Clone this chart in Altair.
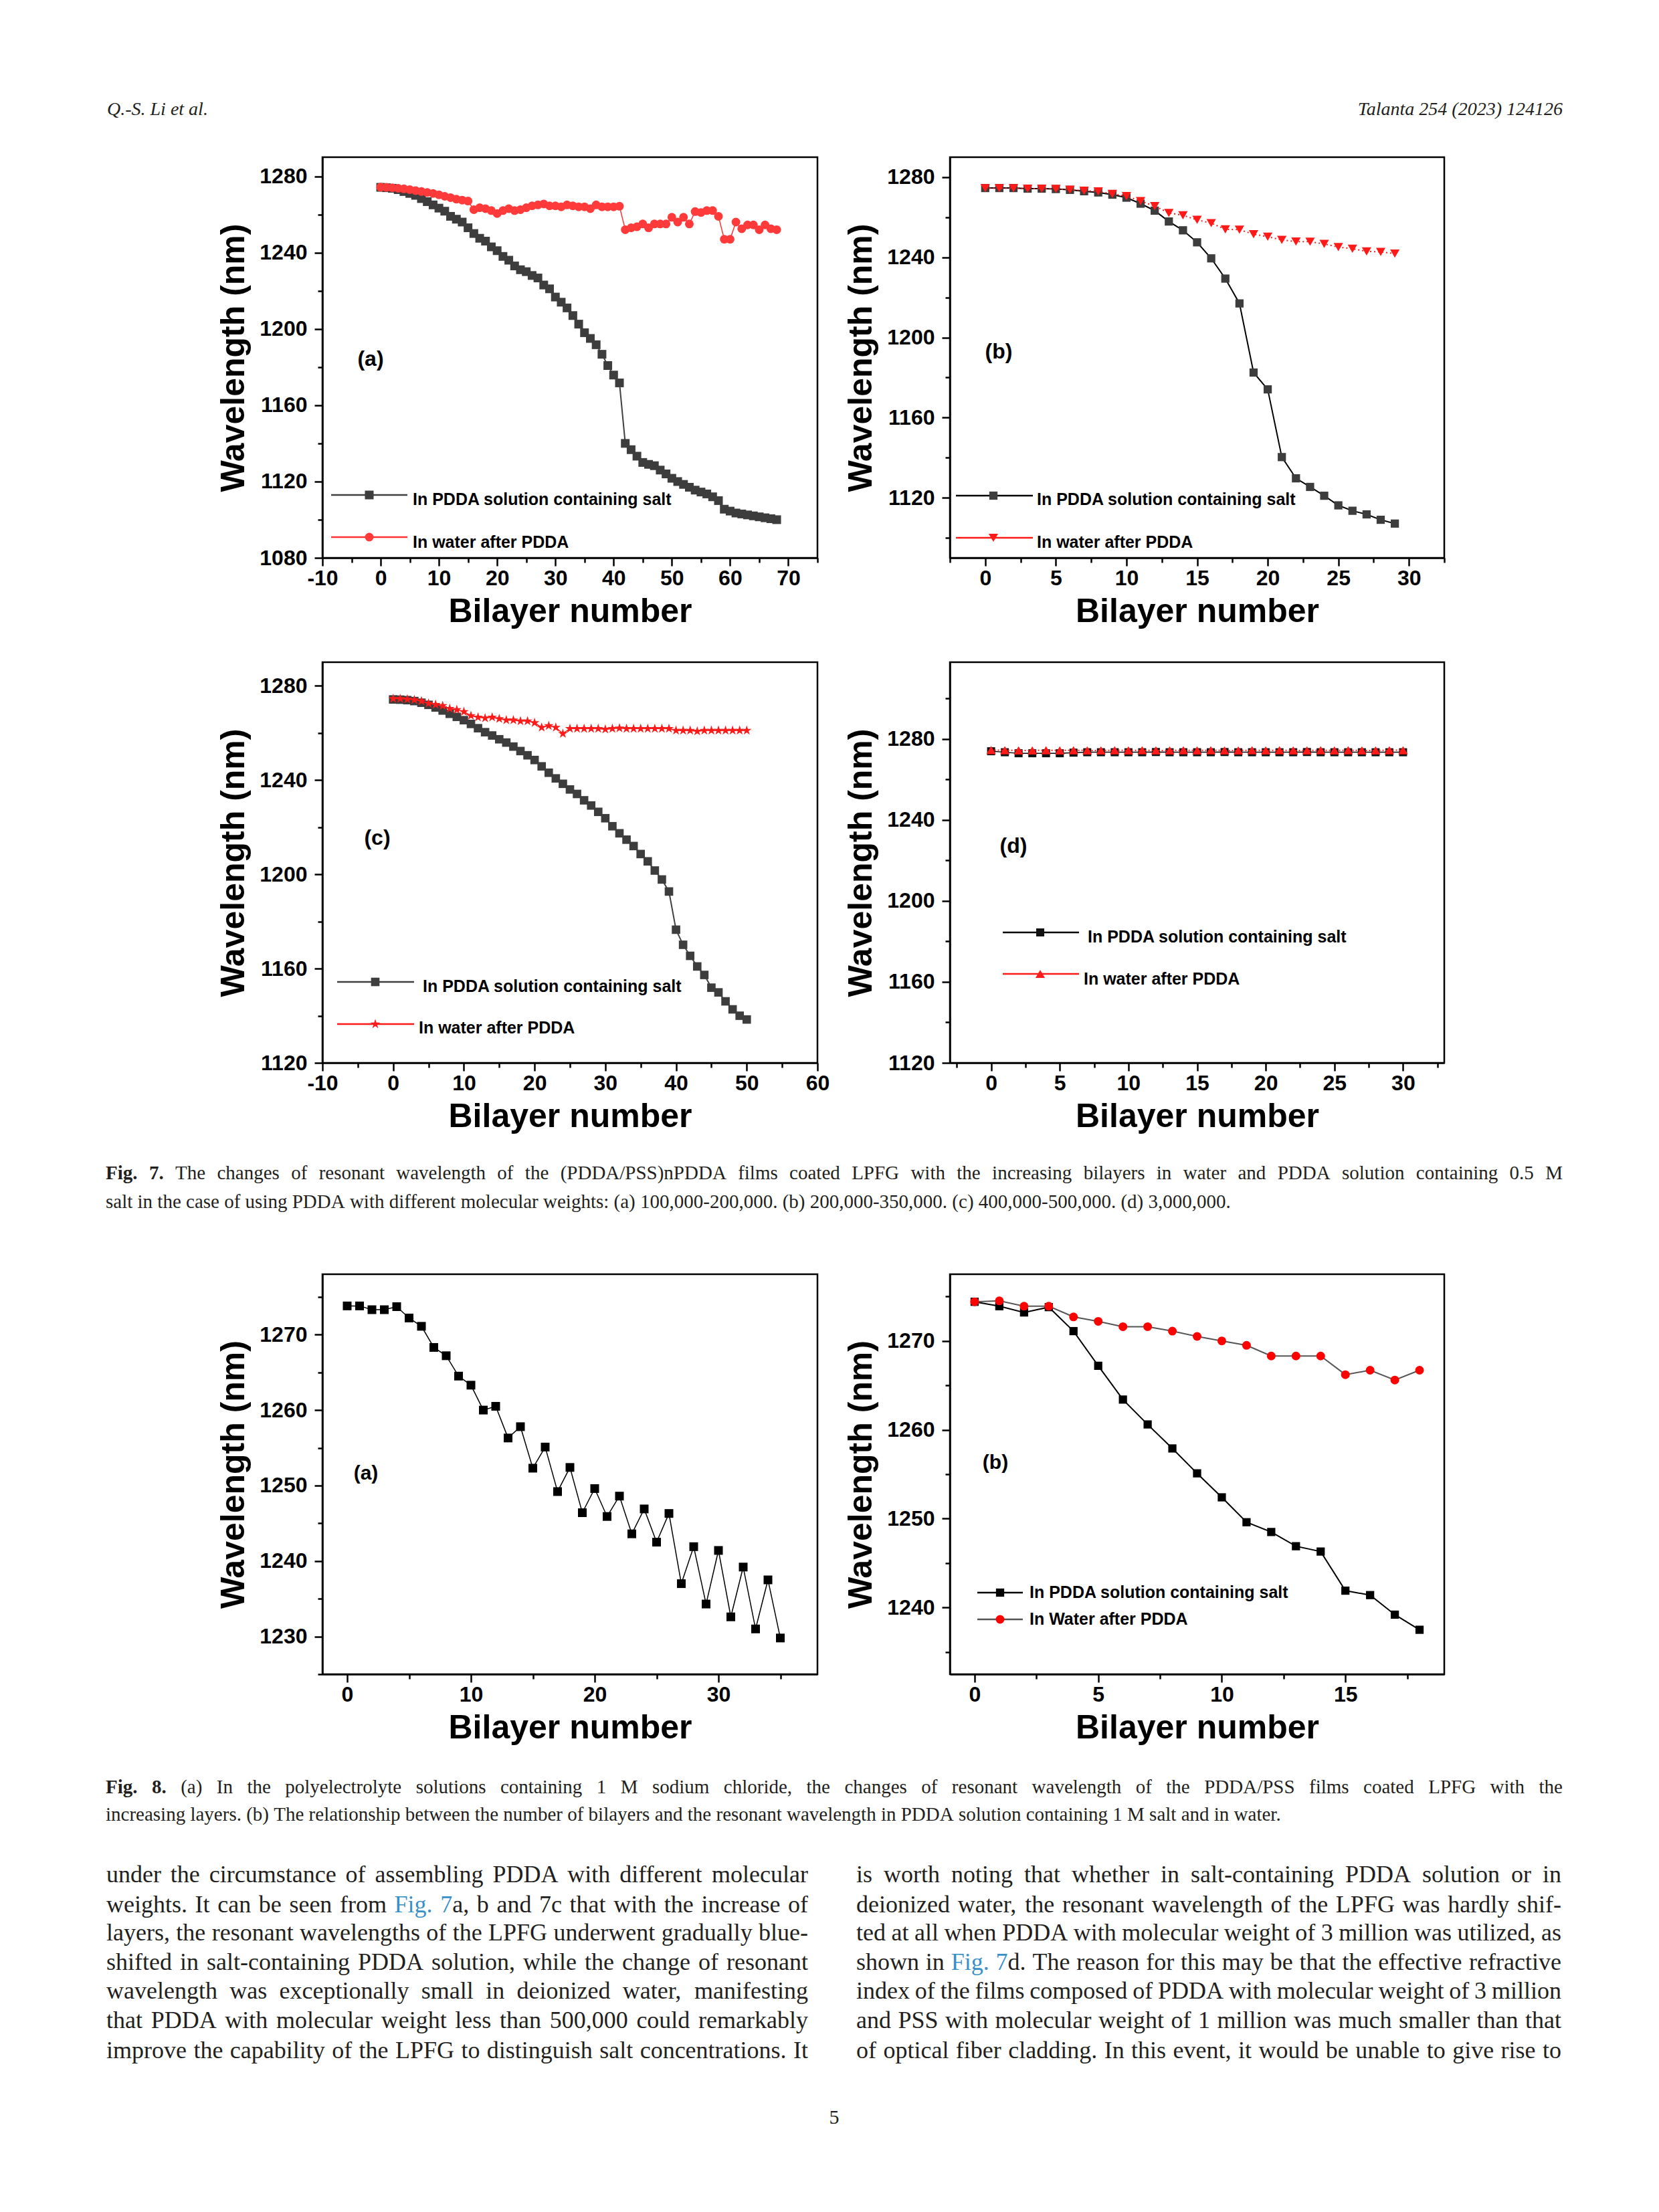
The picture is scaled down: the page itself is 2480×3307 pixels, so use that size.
import altair as alt
import pandas as pd

# ---------------- data ----------------
fig7a_bilayer = list(range(0, 69))
fig7a_salt = [1274.2, 1274.0, 1273.7, 1273.0, 1272.0, 1271.0, 1270.0, 1268.3, 1266.7, 1265.0,
              1263.3, 1261.7, 1259.0, 1257.5, 1256.0, 1253.0, 1250.0, 1247.5, 1246.0, 1243.0,
              1241.0, 1238.0, 1236.0, 1233.0, 1231.0, 1230.0, 1228.0, 1226.7, 1223.0, 1221.0,
              1216.7, 1214.0, 1211.0, 1207.0, 1202.5, 1198.0, 1195.0, 1191.7, 1186.7, 1180.8,
              1175.8, 1171.7, 1140.0, 1136.7, 1133.3, 1130.0, 1129.0, 1128.3, 1126.0, 1124.0,
              1121.7, 1120.0, 1118.5, 1117.0, 1115.5, 1114.5, 1113.5, 1112.0, 1110.0, 1105.5,
              1104.5, 1103.5, 1103.0, 1102.5, 1102.0, 1101.5, 1101.0, 1100.5, 1100.0]
fig7a_water = [1274.3, 1274.2, 1274.0, 1273.7, 1273.4, 1273.0, 1272.5, 1272.0, 1271.5, 1271.0,
               1270.3, 1269.5, 1268.8, 1268.0, 1267.5, 1267.0, 1262.5, 1263.5, 1263.0, 1262.0,
               1260.5, 1262.0, 1263.0, 1262.0, 1262.5, 1263.5, 1264.5, 1265.0, 1265.5, 1264.5,
               1264.5, 1264.0, 1265.0, 1264.5, 1264.0, 1264.0, 1263.0, 1265.0, 1264.0, 1264.0,
               1264.0, 1264.3, 1252.0, 1253.0, 1253.5, 1255.0, 1253.0, 1255.0, 1255.0, 1255.0,
               1258.5, 1256.0, 1258.5, 1255.0, 1261.5, 1261.0, 1262.0, 1262.0, 1259.0, 1247.0,
               1247.0, 1256.0, 1252.5, 1254.5, 1254.5, 1252.0, 1254.5, 1252.5, 1252.0]

fig7b_bilayer = list(range(0, 30))
fig7b_salt = [1274.6, 1274.6, 1274.6, 1274.3, 1274.3, 1274.1, 1273.7, 1273.0, 1272.4, 1271.3,
              1269.8, 1266.8, 1263.3, 1257.9, 1253.5, 1247.5, 1239.5, 1229.4, 1217.0, 1182.5,
              1174.1, 1140.3, 1129.7, 1125.4, 1121.0, 1116.2, 1113.5, 1111.7, 1109.0, 1107.1]
fig7b_water = [1274.5, 1274.5, 1274.5, 1274.3, 1274.3, 1274.2, 1273.8, 1273.3, 1272.9, 1271.7,
               1270.6, 1268.1, 1265.6, 1262.2, 1261.0, 1258.7, 1257.1, 1254.0, 1253.8, 1251.6,
               1250.3, 1248.7, 1247.9, 1247.8, 1246.7, 1245.1, 1244.3, 1243.0, 1242.7, 1241.9]

fig7c_bilayer = list(range(0, 51))
fig7c_salt = [1274.2, 1274.1, 1273.9, 1273.5, 1272.8, 1271.9, 1270.8, 1269.5, 1268.1, 1266.8,
              1265.4, 1263.8, 1262.0, 1260.3, 1258.9, 1257.3, 1255.9, 1254.2, 1252.3, 1250.5,
              1248.5, 1245.8, 1243.1, 1240.7, 1238.4, 1236.0, 1234.1, 1231.4, 1229.2, 1226.5,
              1223.8, 1220.4, 1217.4, 1214.7, 1212.0, 1208.6, 1205.5, 1201.6, 1197.8, 1192.7,
              1176.5, 1170.1, 1165.4, 1160.9, 1157.3, 1151.9, 1149.9, 1146.1, 1142.7, 1140.0,
              1138.4]
fig7c_water = [1274.5, 1274.5, 1274.3, 1274.0, 1273.5, 1272.5, 1272.0, 1271.5, 1270.3, 1269.8,
               1269.0, 1267.3, 1266.6, 1266.3, 1266.6, 1266.0, 1265.4, 1265.4, 1265.0, 1265.0,
               1264.3, 1262.3, 1263.0, 1262.3, 1259.7, 1261.8, 1261.8, 1261.8, 1261.8, 1261.8,
               1261.5, 1261.8, 1262.0, 1261.8, 1261.8, 1261.8, 1261.8, 1261.8, 1261.8, 1261.8,
               1261.0, 1261.0, 1261.0, 1260.7, 1261.0, 1261.0, 1261.0, 1261.0, 1261.0, 1261.0,
               1261.0]

fig7d_bilayer = list(range(0, 31))
fig7d_salt = [1274.0, 1273.5, 1273.0, 1273.0, 1273.0, 1273.0, 1273.3, 1273.5, 1273.5, 1273.5,
              1273.5, 1273.5, 1273.6, 1273.5, 1273.5, 1273.5, 1273.5, 1273.6, 1273.5, 1273.5,
              1273.5, 1273.5, 1273.5, 1273.6, 1273.5, 1273.5, 1273.5, 1273.5, 1273.5, 1273.5,
              1273.5]
fig7d_water = [1274.6, 1274.5, 1274.4, 1274.4, 1274.5, 1274.4, 1274.5, 1274.4, 1274.4, 1274.5,
               1274.4, 1274.5, 1274.4, 1274.4, 1274.5, 1274.4, 1274.5, 1274.4, 1274.4, 1274.5,
               1274.4, 1274.5, 1274.4, 1274.4, 1274.5, 1274.4, 1274.5, 1274.4, 1274.4, 1274.5,
               1274.5]

fig8a_bilayer = list(range(0, 36))
fig8a_salt = [1273.8, 1273.8, 1273.3, 1273.3, 1273.7, 1272.2, 1271.1, 1268.3, 1267.2, 1264.5,
              1263.3, 1260.0, 1260.5, 1256.3, 1257.8, 1252.3, 1255.1, 1249.2, 1252.4, 1246.4,
              1249.6, 1245.9, 1248.6, 1243.6, 1246.9, 1242.5, 1246.3, 1237.0, 1241.9, 1234.3,
              1241.4, 1232.6, 1239.2, 1231.0, 1237.5, 1229.8]

fig8b_bilayer = list(range(0, 19))
fig8b_salt = [1274.4, 1273.9, 1273.2, 1273.8, 1271.1, 1267.2, 1263.4, 1260.6, 1257.9, 1255.1,
              1252.4, 1249.6, 1248.5, 1246.9, 1246.3, 1241.9, 1241.4, 1239.2, 1237.5]
fig8b_water = [1274.4, 1274.5, 1273.9, 1273.9, 1272.7, 1272.2, 1271.6, 1271.6, 1271.1, 1270.5,
               1270.0, 1269.5, 1268.3, 1268.3, 1268.3, 1266.2, 1266.7, 1265.6, 1266.7]

legend_salt = "In PDDA solution containing salt"
legend_water = "In water after PDDA"
legend_water_8 = "In Water after PDDA"
x_title = "Bilayer number"
y_title = "Wavelength (nm)"

header_left = "Q.-S. Li et al."
header_right = "Talanta 254 (2023) 124126"
fig7_caption = [
    "[Fig. 7.]  The changes of resonant wavelength of the (PDDA/PSS)nPDDA films coated LPFG with the increasing bilayers in water and PDDA solution containing 0.5 M",
    "salt in the case of using PDDA with different molecular weights: (a) 100,000-200,000. (b) 200,000-350,000. (c) 400,000-500,000. (d) 3,000,000.",
]
fig8_caption = [
    "[Fig. 8.] (a) In the polyelectrolyte solutions containing 1 M sodium chloride, the changes of resonant wavelength of the PDDA/PSS films coated LPFG with the",
    "increasing layers. (b) The relationship between the number of bilayers and the resonant wavelength in PDDA solution containing 1 M salt and in water.",
]
body_left = [
    "under the circumstance of assembling PDDA with different molecular",
    "weights. It can be seen from {Fig. 7}a, b and 7c that with the increase of",
    "layers, the resonant wavelengths of the LPFG underwent gradually blue-",
    "shifted in salt-containing PDDA solution, while the change of resonant",
    "wavelength was exceptionally small in deionized water, manifesting",
    "that PDDA with molecular weight less than 500,000 could remarkably",
    "improve the capability of the LPFG to distinguish salt concentrations. It",
]
body_right = [
    "is worth noting that whether in salt-containing PDDA solution or in",
    "deionized water, the resonant wavelength of the LPFG was hardly shif-",
    "ted at all when PDDA with molecular weight of 3 million was utilized, as",
    "shown in {Fig. 7}d. The reason for this may be that the effective refractive",
    "index of the films composed of PDDA with molecular weight of 3 million",
    "and PSS with molecular weight of 1 million was much smaller than that",
    "of optical fiber cladding. In this event, it would be unable to give rise to",
]
page_number = "5"

# ---------------- styling ----------------
SANS = "Liberation Sans, Arial, Helvetica, sans-serif"
SERIF = "Liberation Serif, Times New Roman, serif"
INK = "#231f20"
BLUE = "#3a8fc8"
GRAY = "#3d3d3d"
RED = "#ff1a1a"
STAR = ("M0,-1L0.2245,-0.309L0.9511,-0.309L0.3633,0.118L0.5878,0.809L0,0.382"
        "L-0.5878,0.809L-0.3633,0.118L-0.9511,-0.309L-0.2245,-0.309Z")


def tick_values(lo, hi, step):
    n = int(round((hi - lo) / step))
    return [round(lo + i * step, 6) for i in range(n + 1)]


def make_axis(title, values, major, orient, length):
    test = f"abs(datum.value / {major} - round(datum.value / {major})) < 0.001"
    kw = dict(values=values, title=title, grid=False,
              labelExpr=f"({test}) ? '' + datum.value : ''",
              tickSize={"condition": {"test": test, "value": 12}, "value": 7},
              tickWidth=2.5, tickColor="black", domainColor="black", domainWidth=2.5,
              labelFont=SANS, labelFontWeight="bold", labelFontSize=32, labelColor="black",
              labelOverlap=False, labelFlush=False,
              titleFont=SANS, titleFontWeight="bold", titleFontSize=50, titleColor="black",
              titleBaseline="alphabetic", titleAlign="center")
    if orient == "bottom":
        kw.update(labelPadding=3, titleY=95, titleX=length / 2, titleAngle=0)
    else:
        kw.update(labelPadding=11, titleX=-118, titleY=length / 2, titleAngle=270)
    return alt.Axis(orient=orient, **kw)


def panel(w, h, xs, series, xdom, ydom, xticks, xmajor, yticks, ymajor,
          label, label_xy, label_fs, legend, legend_fs=25):
    xax = make_axis(x_title, xticks, xmajor, "bottom", w)
    yax = make_axis(y_title, yticks, ymajor, "left", h)
    xenc = alt.X("x:Q", scale=alt.Scale(domain=xdom, nice=False, zero=False), axis=xax)
    yenc = alt.Y("y:Q", scale=alt.Scale(domain=ydom, nice=False, zero=False), axis=yax)
    layers = []
    for s in series:
        df = pd.DataFrame({"x": xs, "y": s["y"]})
        lk = dict(color=s["line"], strokeWidth=s["lw"])
        if "dash" in s:
            lk["strokeDash"] = s["dash"]
        layers.append(alt.Chart(df).mark_line(**lk).encode(x=xenc, y=yenc))
        layers.append(alt.Chart(df).mark_point(shape=s["shape"], filled=True, color=s["color"],
                                               size=s["size"], opacity=1, strokeWidth=0)
                      .encode(x=xenc, y=yenc))
    one = pd.DataFrame({"t": [label]})
    layers.append(alt.Chart(one).mark_text(font=SANS, fontWeight="bold", fontSize=label_fs,
                                           color="black", align="center", baseline="middle")
                  .encode(x=alt.value(label_xy[0]), y=alt.value(label_xy[1]), text="t:N"))
    for idx, x1, x2, xm, ly, tx, ty, text in legend:
        s = series[idx]
        d = pd.DataFrame({"t": [text]})
        layers.append(alt.Chart(d).mark_rule(color=s["line"], strokeWidth=2.5)
                      .encode(x=alt.value(x1), x2=alt.value(x2), y=alt.value(ly)))
        layers.append(alt.Chart(d).mark_point(shape=s["shape"], filled=True, color=s["color"],
                                              size=s["size"], opacity=1, strokeWidth=0)
                      .encode(x=alt.value(xm), y=alt.value(ly)))
        layers.append(alt.Chart(d).mark_text(font=SANS, fontWeight="bold", fontSize=legend_fs,
                                             color="black", align="left", baseline="middle")
                      .encode(x=alt.value(tx), y=alt.value(ty), text="t:N"))
    return alt.layer(*layers).properties(
        width=w, height=h, view=alt.ViewBackground(stroke="black", strokeWidth=2.5))


# ---------------- text layout helpers (Times metrics) ----------------
TR = {' ': 250, 'a': 444, 'b': 500, 'c': 444, 'd': 500, 'e': 444, 'f': 333, 'g': 500, 'h': 500,
      'i': 278, 'j': 278, 'k': 500, 'l': 278, 'm': 778, 'n': 500, 'o': 500, 'p': 500, 'q': 500,
      'r': 333, 's': 389, 't': 278, 'u': 500, 'v': 500, 'w': 722, 'x': 500, 'y': 500, 'z': 444,
      'A': 722, 'B': 667, 'C': 667, 'D': 722, 'E': 611, 'F': 556, 'G': 722, 'H': 722, 'I': 333,
      'J': 389, 'K': 722, 'L': 611, 'M': 889, 'N': 722, 'O': 722, 'P': 556, 'Q': 722, 'R': 667,
      'S': 556, 'T': 611, 'U': 722, 'V': 722, 'W': 944, 'X': 722, 'Y': 722, 'Z': 611,
      '.': 250, ',': 250, '-': 333, '(': 333, ')': 333, '/': 278, ':': 278, ';': 278}
TB = {'F': 611, 'i': 278, 'g': 500, '.': 250}


def seg_w(text, bold, fs):
    tot = 0
    for c in text:
        if bold and c in TB:
            tot += TB[c]
        else:
            tot += TR.get(c, 500)
    return tot * fs / 1000.0


def parse_words(line):
    state = {"b": False, "u": False}
    words = []
    for raw in line.split():
        segs, buf = [], ""
        for ch in raw:
            if ch in "[]{}":
                if buf:
                    segs.append((buf, state["b"], state["u"]))
                    buf = ""
                if ch == "[":
                    state["b"] = True
                elif ch == "]":
                    state["b"] = False
                elif ch == "{":
                    state["u"] = True
                else:
                    state["u"] = False
            else:
                buf += ch
        if buf:
            segs.append((buf, state["b"], state["u"]))
        words.append(segs)
    return words


def layout_line(rows, line, x0, x1, y, fs, justify):
    words = parse_words(line)
    widths = [sum(seg_w(t, b, fs) for t, b, u in wd) for wd in words]
    if justify and len(words) > 1:
        gap = (x1 - x0 - sum(widths)) / (len(words) - 1)
    else:
        gap = 0.25 * fs
    x = x0
    for wd, ww in zip(words, widths):
        sx = x
        for t, b, u in wd:
            rows.append(dict(text=t, x=sx, y=y, fs=fs, color=BLUE if u else INK,
                             key="normal|" + ("bold" if b else "normal") + "|left"))
            sx += seg_w(t, b, fs)
        x += ww + gap


def text_chart(rows, w, h):
    df = pd.DataFrame(rows)
    base = alt.Chart(df).encode(
        x=alt.X("x:Q", scale=None, axis=None),
        y=alt.Y("y:Q", scale=None, axis=None),
        text="text:N",
        size=alt.Size("fs:Q", scale=None, legend=None),
        color=alt.Color("color:N", scale=None, legend=None))
    layers = []
    for key in sorted(set(df["key"])):
        style, weight, align = key.split("|")
        layers.append(base.transform_filter(alt.datum.key == key)
                      .mark_text(font=SERIF, fontStyle=style, fontWeight=weight,
                                 align=align, baseline="middle"))
    return alt.layer(*layers).properties(width=w, height=h)


def spacer(w, h):
    return alt.Chart(pd.DataFrame({"t": [""]})).mark_text().encode(text="t:N").properties(width=w, height=h)


# ---------------- panels ----------------
C0, LW, C2, RW = 473, 740, 198, 739
PH = 599

p7a = panel(LW, PH, fig7a_bilayer,
            [dict(y=fig7a_salt, line="#404040", lw=2, shape="square", color=GRAY, size=169),
             dict(y=fig7a_water, line="#ff3333", lw=1.5, shape="circle", color="#ff3a3a", size=169)],
            [-10, 75], [1080, 1290], tick_values(-10, 75, 5), 10, tick_values(1080, 1280, 20), 40,
            "(a)", (72, 302), 32,
            [(0, 13, 127, 70, 505, 135, 512, legend_salt),
             (1, 13, 127, 70, 568, 135, 576, legend_water)])

p7b = panel(RW, PH, fig7b_bilayer,
            [dict(y=fig7b_salt, line="#000000", lw=2, shape="square", color=GRAY, size=150),
             dict(y=fig7b_water, line=RED, lw=2, dash=[2, 4], shape="triangle-down", color=RED, size=200)],
            [-2.5, 32.5], [1090, 1290], tick_values(-2.5, 32.5, 2.5), 5, tick_values(1100, 1280, 20), 40,
            "(b)", (73, 291), 32,
            [(0, 9, 124, 65, 506, 130, 512, legend_salt),
             (1, 9, 124, 65, 569, 130, 576, legend_water)])

p7c = panel(LW, PH, fig7c_bilayer,
            [dict(y=fig7c_salt, line="#404040", lw=2, shape="square", color=GRAY, size=160),
             dict(y=fig7c_water, line=RED, lw=1.5, shape=STAR, color=RED, size=230)],
            [-10, 60], [1120, 1290], tick_values(-10, 60, 5), 10, tick_values(1120, 1280, 20), 40,
            "(c)", (82, 263), 32,
            [(0, 22, 137, 79, 478, 150, 485, legend_salt),
             (1, 22, 137, 79, 541, 144, 547, legend_water)])

p7d = panel(RW, PH, fig7d_bilayer,
            [dict(y=fig7d_salt, line="#000000", lw=1.5, shape="square", color="#111111", size=144),
             dict(y=fig7d_water, line=RED, lw=2, dash=[2, 3], shape="triangle-up", color=RED, size=200)],
            [-3, 33], [1120, 1318], tick_values(-2.5, 32.5, 2.5), 5, tick_values(1120, 1300, 20), 40,
            "(d)", (95, 275), 32,
            [(0, 79, 193, 135, 404, 206, 411, legend_salt),
             (1, 79, 193, 135, 466, 200, 474, legend_water)])

p8a = panel(LW, 598, fig8a_bilayer,
            [dict(y=fig8a_salt, line="#000000", lw=1.5, shape="square", color="#000000", size=169)],
            [-2, 38], [1225, 1278], tick_values(0, 35, 5), 10, tick_values(1225, 1275, 5), 10,
            "(a)", (65, 298), 30, [])

p8b = panel(RW, 598, fig8b_bilayer,
            [dict(y=fig8b_salt, line="#000000", lw=2, shape="square", color="#000000", size=150),
             dict(y=fig8b_water, line="#555555", lw=2, shape="circle", color="#ff0000", size=169)],
            [-1, 19], [1232.5, 1277.5], tick_values(0, 17.5, 2.5), 5, tick_values(1235, 1275, 5), 10,
            "(b)", (68, 282), 30,
            [(0, 41, 109, 75, 476, 119, 476, legend_salt),
             (1, 41, 109, 75, 516, 119, 516, legend_water_8)])

# ---------------- text blocks ----------------
header_rows = [
    dict(text=header_left, x=151, y=155, fs=28, color=INK, key="italic|normal|left"),
    dict(text=header_right, x=2327, y=155, fs=28, color=INK, key="italic|normal|right"),
]

cap7_rows = []
layout_line(cap7_rows, fig7_caption[0], 149, 2327, 165, 29, True)
layout_line(cap7_rows, fig7_caption[1], 149, 2327, 208, 29, False)

bottom_rows = []
layout_line(bottom_rows, fig8_caption[0], 149, 2327, 169, 29, True)
layout_line(bottom_rows, fig8_caption[1], 149, 2327, 210, 29, False)
body_y = [300, 345, 387, 431, 474, 518, 563]
for line, yy in zip(body_left, body_y):
    layout_line(bottom_rows, line, 150, 1199, yy, 36, True)
for line, yy in zip(body_right, body_y):
    layout_line(bottom_rows, line, 1271, 2325, yy, 36, True)
bottom_rows.append(dict(text=page_number, x=1238, y=663, fs=30, color=INK, key="normal|normal|center"))

# flat grid: 4 columns (left margin, left panel, gutter, right panel)
H0, H2, H4, H6 = 226, 156, 316, 700
cells = [
    text_chart(header_rows, C0, H0), spacer(LW, H0), spacer(C2, H0), spacer(RW, H0),
    spacer(C0, PH), p7a, spacer(C2, PH), p7b,
    spacer(C0, H2), spacer(LW, H2), spacer(C2, H2), spacer(RW, H2),
    spacer(C0, PH), p7c, spacer(C2, PH), p7d,
    text_chart(cap7_rows, C0, H4), spacer(LW, H4), spacer(C2, H4), spacer(RW, H4),
    spacer(C0, 598), p8a, spacer(C2, 598), p8b,
    text_chart(bottom_rows, C0, H6), spacer(LW, H6), spacer(C2, H6), spacer(RW, H6),
]

chart = alt.concat(*cells, columns=4, spacing=0, bounds="flush").properties(
    padding=0, background="white"
).configure_view(stroke="transparent")

chart.save("out.html", embed_options={"renderer": "svg", "actions": False})
